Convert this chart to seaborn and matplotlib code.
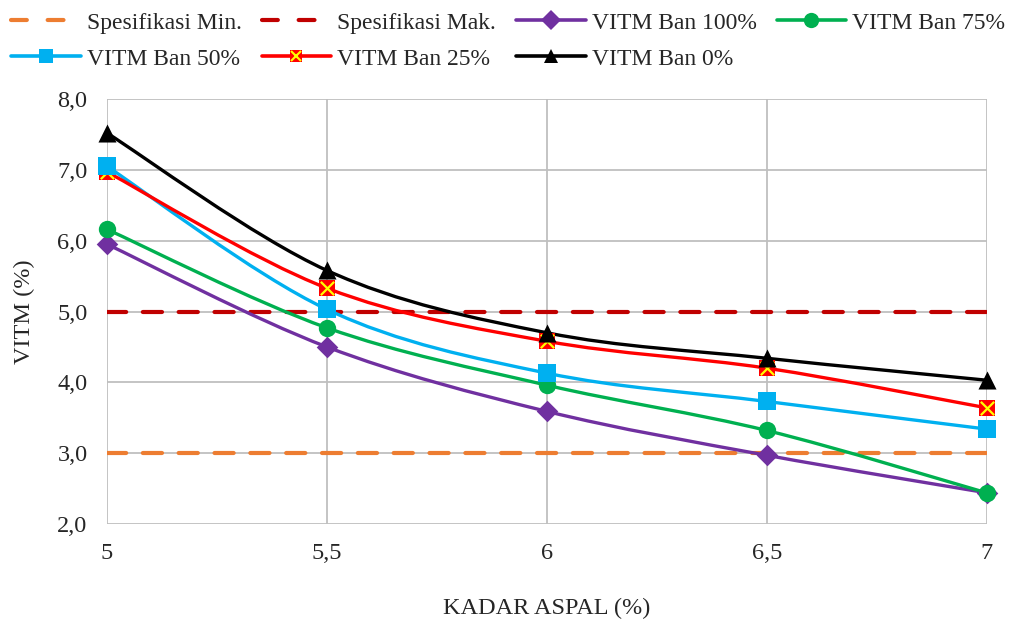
import matplotlib
matplotlib.use("Agg")
import matplotlib.pyplot as plt
import numpy as np
import seaborn as sns
from matplotlib.lines import Line2D
from matplotlib.path import Path
from matplotlib.patches import PathPatch
from matplotlib.ticker import FuncFormatter, MultipleLocator

# ---------------------------------------------------------------------------
# Data
# ---------------------------------------------------------------------------
kadar_aspal = [5.0, 5.5, 6.0, 6.5, 7.0]
spek_min = [3.0, 3.0, 3.0, 3.0, 3.0]
spek_mak = [5.0, 5.0, 5.0, 5.0, 5.0]
vitm_100 = [5.95, 4.50, 3.59, 2.97, 2.44]
vitm_75 = [6.16, 4.77, 3.96, 3.32, 2.44]
vitm_50 = [7.05, 5.03, 4.13, 3.73, 3.34]
vitm_25 = [6.97, 5.33, 4.58, 4.20, 3.64]
vitm_0 = [7.52, 5.58, 4.70, 4.34, 4.03]

sns.set_style("white")
plt.rcParams["font.family"] = ["Liberation Serif", "DejaVu Serif"]


def smooth_path(xs, ys):
    # Excel-style smoothed line: cubic Bezier segments through the data points
    pts = np.column_stack([xs, ys]).astype(float)
    padded = np.vstack([pts[0], pts, pts[-1]])
    verts = [pts[0]]
    codes = [Path.MOVETO]
    for i in range(len(pts) - 1):
        p0, p1, p2, p3 = padded[i], padded[i + 1], padded[i + 2], padded[i + 3]
        verts += [p1 + (p2 - p0) / 6, p2 - (p3 - p1) / 6, p2]
        codes += [Path.CURVE4] * 3
    return Path(verts, codes)


fig, ax = plt.subplots(figsize=(10.14, 6.19), dpi=100)
fig.subplots_adjust(left=0.1055, right=0.973, top=0.840, bottom=0.1535)

# Specification limits
for values, color in [(spek_min, "#ED7D31"), (spek_mak, "#C00000")]:
    sns.lineplot(x=kadar_aspal, y=values, ax=ax, color=color, linewidth=3,
                 zorder=2)
    line = ax.lines[-1]
    line.set_dashes((4.6, 4.0))
    line.set_dash_capstyle("round")

series = [
    (vitm_100, "#7030A0", "D", 11, 5),
    (vitm_75, "#00B050", "o", 12.5, 6),
    (vitm_50, "#00B0F0", "s", 12.5, 8),
    (vitm_25, "#FF0000", "s", 12, 7),
    (vitm_0, "#000000", "^", 13, 9),
]

for i, (values, color, marker, msize, mz) in enumerate(series):
    patch = PathPatch(smooth_path(kadar_aspal, values), facecolor="none",
                      edgecolor=color, linewidth=2.4, zorder=3 + i * 0.1,
                      capstyle="round", joinstyle="round")
    ax.add_patch(patch)
    sns.scatterplot(x=kadar_aspal, y=values, ax=ax, marker=marker,
                    s=msize ** 2, color=color, linewidth=0, zorder=mz,
                    clip_on=False)
    if color == "#FF0000":
        sns.scatterplot(x=kadar_aspal, y=values, ax=ax, marker="x",
                        s=(msize * 0.8) ** 2, color="#FFFF00", linewidth=1.6,
                        zorder=mz + 0.5, clip_on=False)

ax.set_xlim(5, 7)
ax.set_ylim(2, 8)
ax.xaxis.set_major_locator(MultipleLocator(0.5))
ax.yaxis.set_major_locator(MultipleLocator(1.0))
ax.xaxis.set_major_formatter(
    FuncFormatter(lambda v, _: f"{v:g}".replace(".", ",")))
ax.yaxis.set_major_formatter(
    FuncFormatter(lambda v, _: f"{v:.1f}".replace(".", ",")))
ax.grid(True, color="#BFBFBF", linewidth=1.3)
for spine in ax.spines.values():
    spine.set_visible(False)
ax.tick_params(axis="both", labelsize=17.5, length=0)
ax.tick_params(axis="x", pad=14)
ax.tick_params(axis="y", pad=14)
ax.set_xlabel("KADAR ASPAL (%)", fontsize=17.5, labelpad=24)
ax.set_ylabel("VITM (%)", fontsize=17.5, labelpad=16)

# Legend (reordered so that it reads row by row)
h_min = Line2D([], [], color="#ED7D31", linewidth=3, dashes=(3.8, 5.0),
               dash_capstyle="round")
h_mak = Line2D([], [], color="#C00000", linewidth=3, dashes=(3.8, 5.0),
               dash_capstyle="round")
h_100 = Line2D([], [], color="#7030A0", linewidth=2.6, marker="D",
               markersize=10, markeredgewidth=0)
h_75 = Line2D([], [], color="#00B050", linewidth=2.6, marker="o",
              markersize=11, markeredgewidth=0)
h_50 = Line2D([], [], color="#00B0F0", linewidth=2.6, marker="s",
              markersize=10, markeredgewidth=0)
h_25a = Line2D([], [], color="#FF0000", linewidth=2.6, marker="s",
               markersize=9, markeredgewidth=0)
h_25b = Line2D([], [], color="#FFFF00", linewidth=0, marker="x",
               markersize=7, markeredgewidth=1.5)
h_0 = Line2D([], [], color="#000000", linewidth=2.6, marker="^",
             markersize=10, markeredgewidth=0)

handles = [h_min, h_50, h_mak, (h_25a, h_25b), h_100, h_0, h_75]
labels = ["Spesifikasi Min.", "VITM Ban 50%", "Spesifikasi Mak.",
          "VITM Ban 25%", "VITM Ban 100%", "VITM Ban 0%", "VITM Ban 75%"]
fig.legend(handles, labels, loc="upper left", bbox_to_anchor=(0.004, 0.992),
           ncol=4, frameon=False, fontsize=17, handlelength=2.95,
           handletextpad=0.25, columnspacing=0.85, labelspacing=0.62,
           borderaxespad=0.1, borderpad=0.2)

fig.savefig("out.png", dpi=100)
